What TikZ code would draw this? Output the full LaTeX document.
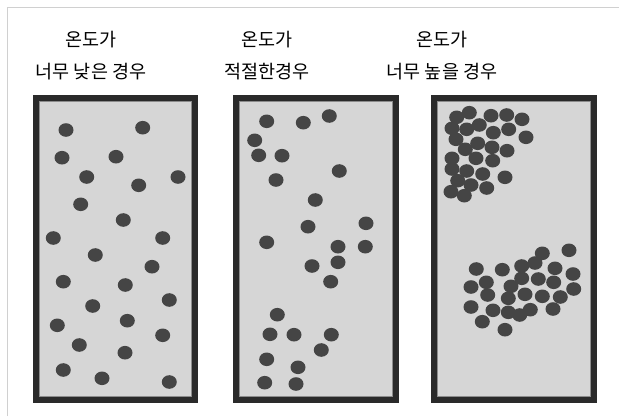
\documentclass[tikz,border=0pt]{standalone}
\usepackage{fontspec}
\newfontfamily\kr{Noto Sans CJK KR}
\definecolor{framegray}{HTML}{D0D0D0}
\definecolor{boxfill}{HTML}{D6D6D6}
\definecolor{boxedge}{HTML}{2A2A2A}
\definecolor{boxinner}{HTML}{8C8C8C}
\definecolor{dotcol}{HTML}{454545}
\begin{document}
\begin{tikzpicture}[x=1pt,y=-1pt,
  title/.style={font=\kr\fontsize{18.5}{32}\selectfont, align=center, text=black, inner sep=0pt},
  panel/.style={fill=boxfill, draw=boxedge, line width=6pt},
  panelinner/.style={draw=boxinner, line width=1pt},
  dotty/.style={fill=dotcol}]
\useasboundingbox (0,0) rectangle (619,416);
\fill[white] (0,0) rectangle (619,416);
\draw[framegray, line width=1pt] (7,416) -- (7,7) -- (619,7);

% panels
\foreach \xa/\xb [count=\i] in {32.5/198, 233/399, 431/597}{
  \path[panel] (\xa+3,98) rectangle (\xb-3,400);
  \path[panelinner] (\xa+6.5,101.5) rectangle (\xb-6.5,396.5);
}

% titles
\node[title] (t1) at (91,56) {온도가\\너무 낮은 경우};
\node[title] (t2) at (267,56) {온도가\\적절한경우};
\node[title] (t3) at (442,56) {온도가\\너무 높을 경우};

% panel 1 dots
\foreach \x/\y in {66/130, 142.7/127.7, 62/157.7, 116/156.7, 86.7/177, 138.7/185.3, 178/177,
  80.7/204.3, 123.3/220, 53.3/238, 162.7/238, 95.3/255, 152/266.7, 63.3/281.7, 125.3/285,
  169.3/300, 92.7/306, 127.3/320.7, 57.3/325.3, 162.7/335.3, 79.3/345, 125/352.7,
  63.3/370, 102/378.3, 169.3/382}
  \fill[dotty] (\x,\y) ellipse [x radius=7.5, y radius=6.8];

% panel 2 dots
\foreach \x/\y in {266.7/121.3, 303.3/122.7, 329.3/116, 254.7/140.3, 258.7/155.3, 282/155.7,
  339.3/171, 276/180, 315.3/200, 366/223.3, 308/226.7, 266.7/242.3, 338/246.7, 365.3/246.7,
  338/262.3, 312/266, 330.7/281.7, 277.3/314.7, 270/334.3, 294/334.7, 331.3/334.7,
  321.3/350, 266.7/359.3, 298/367.3, 264.7/382.7, 296/384}
  \fill[dotty] (\x,\y) ellipse [x radius=7.5, y radius=6.8];

% panel 3 dots, upper cluster
\foreach \x/\y in {469.3/112.7, 456.7/117.3, 491/115.7, 506.7/115, 522/119.3, 452/128.3,
  466.7/129.3, 479.3/125, 493.3/132.7, 508.7/129.3, 526/137.3, 456/139.3, 477.7/143.3,
  465.3/149.3, 492/147.3, 507/150.7, 452/158.3, 476/158.3, 492.7/160.7, 452/169,
  466.7/171, 482.7/174, 505/177.3, 457.7/180.7, 471/185, 486.7/188, 451/191.7, 464.3/195.7}
  \fill[dotty] (\x,\y) ellipse [x radius=7.5, y radius=6.8];

% panel 3 dots, lower cluster
\foreach \x/\y in {569/250.3, 542.3/253.3, 535/263, 476.3/269, 502.3/269.7, 521.7/266,
  555/268.3, 573/274, 486.3/282.3, 521.7/278.3, 538.3/279, 553.7/282.3, 471/287,
  511/286.3, 487.7/295, 525/294.3, 542.3/296.3, 560.3/297, 573.7/289, 508.3/298.3,
  471/307, 493/310.3, 508.3/312.3, 519.7/315, 530.3/309.7, 553/309, 482.3/321.7, 505/329.7}
  \fill[dotty] (\x,\y) ellipse [x radius=7.5, y radius=6.8];
\end{tikzpicture}
\end{document}
